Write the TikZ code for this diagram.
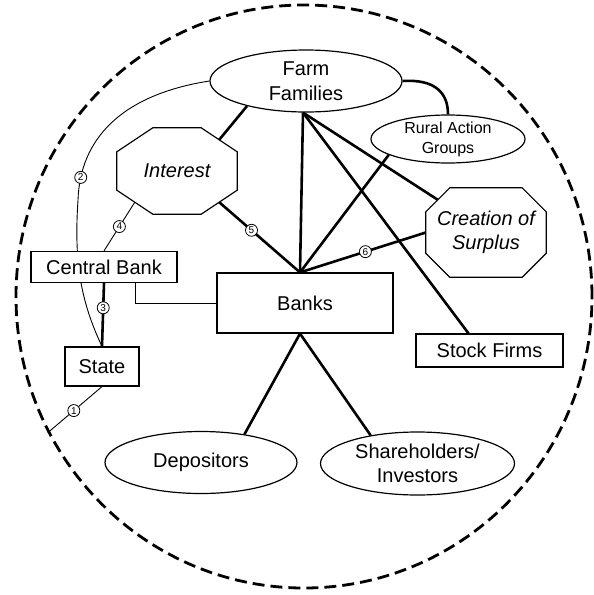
\documentclass[tikz,border=0pt]{standalone}
\usepackage{fontspec}
\setmainfont{Liberation Sans}
\usetikzlibrary{shapes.geometric,backgrounds}

% octagon drawn round a rectangular node: #1 node, #2 chamfer width, #3 chamfer height (pt)
\newcommand\octo[3]{%
  \draw[line width=1.2pt] ([xshift=#2pt]#1.north west) -- ([xshift=-#2pt]#1.north east)
    -- ([yshift=-#3pt]#1.north east) -- ([yshift=#3pt]#1.south east)
    -- ([xshift=-#2pt]#1.south east) -- ([xshift=#2pt]#1.south west)
    -- ([yshift=#3pt]#1.south west) -- ([yshift=-#3pt]#1.north west) -- cycle;
  \coordinate (#1-nw) at ([xshift={#2pt/2},yshift={-#3pt/2}]#1.north west);
  \coordinate (#1-ne) at ([xshift={-#2pt/2},yshift={-#3pt/2}]#1.north east);
  \coordinate (#1-sw) at ([xshift={#2pt/2},yshift={#3pt/2}]#1.south west);
  \coordinate (#1-se) at ([xshift={-#2pt/2},yshift={#3pt/2}]#1.south east);
}

\begin{document}
\begin{tikzpicture}[x=1pt,y=-1pt,
  every node/.style={inner sep=0pt},
  box/.style={draw, line width=1.2pt, fill=white},
  rect/.style={box, rectangle, font=\fontsize{20}{24}\selectfont},
  oval/.style={box, ellipse},
  txt/.style={align=center, font=\fontsize{20}{24.5}\selectfont},
  ital/.style={align=center, font=\fontsize{20}{24.5}\selectfont\itshape},
  small/.style={align=center, font=\fontsize{16}{20}\selectfont},
  heavy/.style={line width=2.6pt},
  fine/.style={line width=0.9pt},
  num/.style={circle, draw, fill=white, line width=0.8pt, minimum size=12pt,
              font=\fontsize{10}{10}\selectfont},
]
\useasboundingbox (0,0) rectangle (594,595);

% outer boundary
\node[draw, ellipse, dash pattern=on 12pt off 6pt, line width=2.8pt,
      minimum width=576pt, minimum height=583pt] (rim) at (304,296.5) {};

% actors
\node[oval, minimum width=192pt, minimum height=62pt,
      label={[txt]center:Farm\\Families}] (ff) at (306,81) {};
\node[oval, minimum width=154pt, minimum height=48pt,
      label={[small]center:Rural Action\\Groups}] (rag) at (448,139) {};
\node[minimum width=120pt, minimum height=86pt, ital] (int) at (177,171) {Interest};
\octo{int}{36}{24}
\node[minimum width=120pt, minimum height=89pt, ital] (cos) at (486,232.5) {Creation of\\Surplus};
\octo{cos}{24}{24}
\node[rect, minimum width=146pt, minimum height=31pt] (cb) at (104,267) {Central Bank};
\node[rect, minimum width=176pt, minimum height=60pt] (bk) at (305,303) {Banks};
\node[rect, minimum width=74pt, minimum height=39pt] (st) at (102,366.5) {State};
\node[rect, minimum width=147pt, minimum height=33pt] (sf) at (489.5,350.5) {Stock Firms};
\node[oval, minimum width=192pt, minimum height=62pt,
      label={[txt]center:Depositors}] (dep) at (201,462.5) {};
\node[oval, minimum width=194pt, minimum height=63pt,
      label={[txt]center:Shareholders/\\Investors}] (sh) at (417.5,463.5) {};

% links
\begin{pgfonlayer}{background}
  \coordinate (hub) at ([xshift=-5pt]bk.north);
  \coordinate (ffb) at ([xshift=-3pt]ff.south);
  \coordinate (bkb) at ([xshift=-5pt]bk.south);
  \coordinate (sft) at ([xshift=-21pt]sf.north);

  \draw[heavy] (ff.203) -- (int-ne);
  \draw[heavy] (ffb) -- (hub);
  \draw[heavy] (ffb) -- (cos-nw);
  \draw[heavy] (ffb) -- (sft);
  \draw[heavy] (ff.east) .. controls +(32,-2) and +(0,-22) .. (rag.north);
  \draw[heavy] (rag.195) -- (hub);
  \draw[heavy] (cos.west) -- node[num, pos=.48] {6} (hub);
  \draw[heavy] (int-se) -- node[num, pos=.4] {5} (hub);
  \draw[fine] (int-sw) -- node[num, pos=.5] {4} (cb.north);
  \draw[fine] (ff.west) .. controls (120,95) and (80,140) .. (78,200)
     node[num, pos=.87] {2}
     .. controls (74,260) and (80,300) .. (st.north);
  \draw[heavy] (cb.south) -- node[num, pos=.39] {3} (st.north);
  \draw[fine] ([xshift=31pt]cb.south) |- (bk.west);
  \draw[fine] (st.south) -- node[num, pos=.52] {1} (rim.208);
  \draw[heavy] (bkb) -- (dep.33);
  \draw[heavy] (bkb) -- (sh.149);
\end{pgfonlayer}
\end{tikzpicture}
\end{document}
